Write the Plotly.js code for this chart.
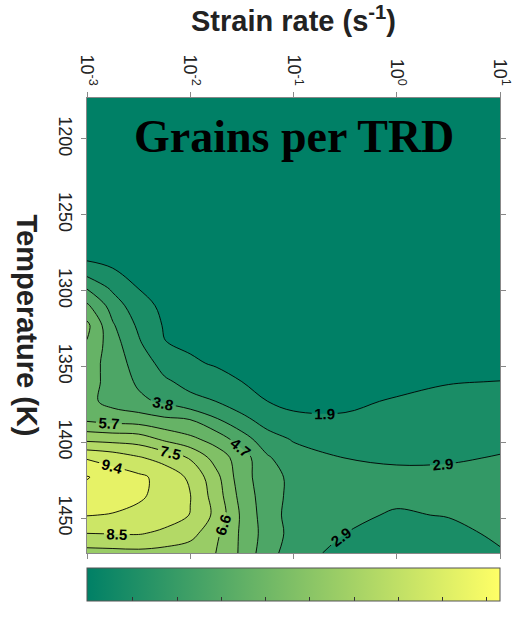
<!DOCTYPE html>
<html>
<head>
<meta charset="utf-8">
<script src="https://cdn.plot.ly/plotly-3.0.1.min.js"></script>
<style>
  html, body { margin: 0; padding: 0; background: #ffffff; }
  #chart { width: 514px; height: 618px; }
</style>
</head>
<body>
<div id="chart"></div>
<script>
// Strain rate grid (s^-1), log-spaced columns
const strainRates = [0.001, 0.00178, 0.00316, 0.00562, 0.01, 0.0178, 0.0316, 0.0562, 0.1, 0.316, 1, 3.16, 10];
// Temperature grid (K)
const temperatures = [1173, 1198, 1223, 1248, 1273, 1285, 1298, 1310, 1323, 1335, 1348, 1360, 1373, 1385, 1398, 1410, 1423, 1435, 1448, 1460, 1473];
// Grains per TRD, one row per temperature (columns follow strainRates)
const grainsPerTRD = [
  [1.00, 1.00, 1.00, 1.00, 1.00, 1.00, 1.00, 1.00, 1.00, 1.00, 1.00, 1.00, 1.00],
  [1.05, 1.05, 1.00, 1.00, 1.00, 1.00, 1.00, 1.00, 1.00, 1.00, 1.00, 1.00, 1.00],
  [1.15, 1.10, 1.05, 1.05, 1.00, 1.00, 1.00, 1.00, 1.00, 1.00, 1.00, 1.00, 1.00],
  [1.30, 1.25, 1.20, 1.15, 1.10, 1.05, 1.05, 1.05, 1.05, 1.05, 1.05, 1.05, 1.05],
  [1.50, 1.45, 1.40, 1.30, 1.20, 1.15, 1.10, 1.10, 1.10, 1.10, 1.10, 1.10, 1.10],
  [2.20, 1.92, 1.60, 1.40, 1.30, 1.25, 1.20, 1.15, 1.15, 1.15, 1.15, 1.15, 1.15],
  [3.70, 2.65, 1.90, 1.55, 1.40, 1.35, 1.30, 1.25, 1.20, 1.20, 1.20, 1.20, 1.20],
  [4.90, 3.40, 2.25, 1.75, 1.60, 1.50, 1.45, 1.40, 1.35, 1.30, 1.30, 1.30, 1.35],
  [5.90, 3.90, 2.70, 1.85, 1.70, 1.60, 1.55, 1.50, 1.45, 1.40, 1.40, 1.45, 1.50],
  [5.60, 4.20, 3.00, 1.96, 1.80, 1.70, 1.60, 1.55, 1.50, 1.50, 1.50, 1.55, 1.60],
  [5.20, 4.30, 3.40, 2.55, 2.05, 1.85, 1.75, 1.70, 1.65, 1.65, 1.65, 1.70, 1.70],
  [5.10, 4.40, 3.65, 3.00, 2.60, 2.25, 1.93, 1.80, 1.75, 1.75, 1.80, 1.90, 1.94],
  [5.00, 4.40, 4.00, 3.64, 3.10, 2.86, 2.38, 1.93, 1.85, 1.85, 1.97, 2.10, 2.18],
  [5.50, 5.30, 5.20, 4.90, 4.73, 3.90, 3.10, 2.50, 2.00, 1.98, 2.20, 2.32, 2.42],
  [7.30, 7.20, 7.10, 6.45, 5.90, 5.30, 4.25, 3.20, 2.80, 2.38, 2.50, 2.55, 2.70],
  [9.30, 9.00, 8.55, 8.10, 7.45, 6.20, 5.20, 3.90, 3.20, 2.85, 2.75, 2.78, 2.90],
  [10.40, 9.90, 9.60, 9.10, 8.30, 6.90, 5.10, 4.20, 3.55, 3.20, 3.05, 3.05, 3.10],
  [10.00, 9.90, 9.60, 9.00, 8.50, 7.10, 5.30, 4.20, 3.55, 3.15, 3.00, 3.00, 3.05],
  [9.45, 9.35, 9.10, 8.90, 8.45, 7.30, 5.50, 4.20, 3.45, 3.00, 2.80, 2.90, 3.20],
  [8.48, 8.52, 8.55, 8.30, 7.90, 6.80, 5.50, 4.30, 3.50, 2.87, 2.55, 2.65, 3.00],
  [7.20, 7.25, 7.30, 7.20, 7.00, 6.60, 5.50, 4.10, 3.40, 2.45, 2.40, 2.50, 2.80]
];
// Contour levels
const levelStart = 1.93;
const levelStep = 0.935;
const levelEnd = 10.35;
// Colour bar value range and ticks
const colorMin = 0.96;
const colorMax = 10.3;
const colorTicks = [2, 3, 4, 5, 6, 7, 8, 9, 10];
// Axis ticks
const xTickVals = [0.001, 0.01, 0.1, 1, 10];
const xTickText = ['10<sup>-3</sup>', '10<sup>-2</sup>', '10<sup>-1</sup>', '10<sup>0</sup>', '10<sup>1</sup>'];
const yTickVals = [1200, 1250, 1300, 1350, 1400, 1450];
const yRange = [1473, 1173];

// MATLAB "summer" colormap
const summer = [[0, 'rgb(0,128,102)'], [1, 'rgb(255,255,102)']];

const sans = 'Liberation Sans, Arial, Helvetica, sans-serif';

const contour = {
  type: 'contour',
  x: strainRates,
  y: temperatures,
  z: grainsPerTRD,
  colorscale: summer,
  showscale: false,
  autocontour: false,
  contours: {
    start: levelStart, end: levelEnd, size: levelStep,
    coloring: 'fill',
    showlabels: true,
    labelformat: '.1f',
    labelfont: { family: sans, size: 15, color: '#000000', weight: 'bold' }
  },
  line: { color: '#000000', width: 0.9, smoothing: 1 },
  hoverinfo: 'skip'
};

// invisible marker trace that only carries the continuous colour bar
const colorbarCarrier = {
  type: 'scatter',
  mode: 'markers',
  x: [1e-6, 1e-6],
  y: [1000, 1000],
  hoverinfo: 'skip',
  showlegend: false,
  marker: {
    color: [colorMin, colorMax],
    cmin: colorMin, cmax: colorMax,
    colorscale: summer,
    opacity: 0,
    showscale: true,
    colorbar: {
      orientation: 'h',
      x: 0.5, xanchor: 'center',
      y: -0.034, yanchor: 'top',
      len: 413, lenmode: 'pixels',
      thickness: 33, thicknessmode: 'pixels',
      xpad: 0, ypad: 0,
      outlinecolor: '#555555', outlinewidth: 1,
      tickmode: 'array', tickvals: colorTicks,
      ticks: 'inside', ticklen: 4, tickcolor: '#333333',
      showticklabels: false
    }
  }
};

const layout = {
  width: 514, height: 618,
  margin: { l: 87, r: 14, t: 98, b: 51 },
  paper_bgcolor: '#ffffff',
  plot_bgcolor: '#ffffff',
  showlegend: false,
  font: { family: sans, color: '#222222' },
  xaxis: {
    type: 'log',
    range: [-3, 1],
    side: 'top',
    tickmode: 'array', tickvals: xTickVals, ticktext: xTickText,
    tickangle: 90,
    tickfont: { family: sans, size: 18, color: '#222222' },
    ticks: 'outside', ticklen: 5, tickcolor: '#888888',
    showline: true, linecolor: '#888888', linewidth: 1, mirror: 'ticks',
    showgrid: false, zeroline: false,
    title: { text: '<b>Strain rate (s<sup>-1</sup>)</b>', font: { family: sans, size: 29, color: '#222222' }, standoff: 14 }
  },
  yaxis: {
    range: yRange,
    tickmode: 'array', tickvals: yTickVals,
    tickangle: 90,
    tickfont: { family: sans, size: 18, color: '#222222' },
    ticks: 'outside', ticklen: 5, tickcolor: '#888888',
    showline: true, linecolor: '#888888', linewidth: 1, mirror: 'ticks',
    showgrid: false, zeroline: false
  },
  annotations: [
    {
      text: '<b>Temperature (K)</b>',
      xref: 'paper', yref: 'paper', x: -0.143, y: 0.5,
      xanchor: 'center', yanchor: 'middle',
      textangle: 90, showarrow: false,
      font: { family: sans, size: 29, color: '#222222' }
    },
    {
      text: '<b>Grains per TRD</b>',
      xref: 'paper', yref: 'paper', x: 0.5, y: 0.915,
      xanchor: 'center', yanchor: 'middle',
      showarrow: false,
      font: { family: 'Liberation Serif, Times New Roman, serif', size: 46, color: '#000000' }
    }
  ]
};

Plotly.newPlot('chart', [contour, colorbarCarrier], layout, { displayModeBar: false, staticPlot: true });
</script>
</body>
</html>
